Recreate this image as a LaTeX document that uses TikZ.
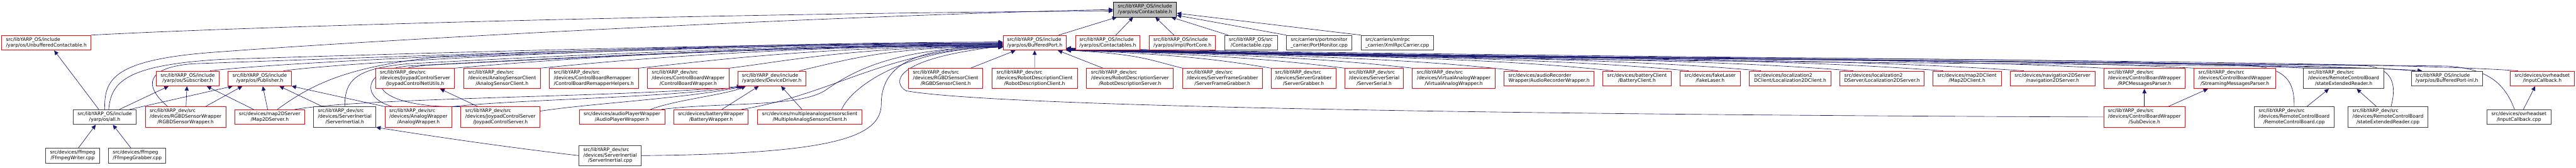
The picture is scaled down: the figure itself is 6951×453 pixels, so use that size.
\documentclass[tikz,border=0pt]{standalone}
\usepackage{fontspec}
\newfontfamily\nodefont{DejaVu Sans}
\usetikzlibrary{arrows.meta,calc}
\definecolor{edgeblue}{HTML}{191970}
\definecolor{greyA}{HTML}{404040}
\definecolor{greyB}{HTML}{BFBFBF}
\definecolor{redA}{HTML}{FF0000}
\newcommand{\twoL}[2]{\begin{tabular}{@{}l@{}}#1\\\multicolumn{1}{@{}c@{}}{#2}\end{tabular}}
\newcommand{\threeL}[3]{\begin{tabular}{@{}l@{}}#1\\#2\\\multicolumn{1}{@{}c@{}}{#3}\end{tabular}}
\pgfdeclarelayer{bg}
\pgfsetlayers{bg,main}
\tikzset{
 nbox/.style={draw=greyA, fill=white, line width=1.4pt, inner sep=0pt, font={\nodefont\fontsize{12.85}{15}\selectfont}},
 rbox/.style={nbox, draw=redA},
 rootbox/.style={nbox, draw=black, fill=greyB},
 htwo/.style={minimum height=40pt},
 hthree/.style={minimum height=54.5pt},
 edge/.style={draw=edgeblue, line width=1.1pt, -{Triangle[length=12pt,width=11pt]}},
}
\begin{document}
\begin{tikzpicture}[x=1pt,y=-1pt]
\useasboundingbox (0,0) rectangle (6951,453);
% row 0
\node[rootbox,htwo,minimum width=170.5pt] (root) at (3089.5,25.7) {\twoL{src/libYARP\_OS/include}{/yarp/os/Contactable.h}};
% row 1
\node[rbox,htwo,minimum width=240.4pt] (unbuf) at (125.1,115.35) {\twoL{src/libYARP\_OS/include}{/yarp/os/UnbufferedContactable.h}};
\node[rbox,htwo,minimum width=170.1pt] (bport) at (2791.9,115.35) {\twoL{src/libYARP\_OS/include}{/yarp/os/BufferedPort.h}};
\node[rbox,htwo,minimum width=174.2pt] (ctbls) at (2989.0,115.35) {\twoL{src/libYARP\_OS/include}{/yarp/os/Contactables.h}};
\node[rbox,htwo,minimum width=178.7pt] (pcore) at (3190.7,115.35) {\twoL{src/libYARP\_OS/include}{/yarp/os/impl/PortCore.h}};
\node[nbox,htwo,minimum width=142.2pt] (ccpp) at (3375.6,115.35) {\twoL{src/libYARP\_OS/src}{/Contactable.cpp}};
\node[nbox,htwo,minimum width=177pt] (pmon) at (3559.7,115.35) {\twoL{src/carriers/portmonitor}{\_carrier/PortMonitor.cpp}};
\node[nbox,htwo,minimum width=194.6pt] (xmlrpc) at (3770.3,115.35) {\twoL{src/carriers/xmlrpc}{\_carrier/XmlRpcCarrier.cpp}};
% row 2
\node[rbox,htwo,minimum width=171.3pt] (subs) at (506.4,211.7) {\twoL{src/libYARP\_OS/include}{/yarp/os/Subscriber.h}};
\node[rbox,htwo,minimum width=170.5pt] (pub) at (701.0,211.7) {\twoL{src/libYARP\_OS/include}{/yarp/os/Publisher.h}};
\node[rbox,hthree,minimum width=213.5pt] (joynet) at (1119.9,211.7) {\threeL{src/libYARP\_dev/src}{/devices/JoypadControlServer}{/JoypadControlNetUtils.h}};
\node[rbox,hthree,minimum width=206.9pt] (asclient) at (1354.6,211.7) {\threeL{src/libYARP\_dev/src}{/devices/AnalogSensorClient}{/AnalogSensorClient.h}};
\node[rbox,hthree,minimum width=240pt] (cbrh) at (1602.5,211.7) {\threeL{src/libYARP\_dev/src}{/devices/ControlBoardRemapper}{/ControlBoardRemapperHelpers.h}};
\node[rbox,hthree,minimum width=220.5pt] (cbw) at (1857.1,211.7) {\threeL{src/libYARP\_dev/src}{/devices/ControlBoardWrapper}{/ControlBoardWrapper.h}};
\node[rbox,htwo,minimum width=182.9pt] (ddrv) at (2082.5,211.7) {\twoL{src/libYARP\_dev/include}{/yarp/dev/DeviceDriver.h}};
\node[rbox,hthree,minimum width=200.2pt] (rgbdc) at (2551.8,211.7) {\threeL{src/libYARP\_dev/src}{/devices/RGBDSensorClient}{/RGBDSensorClient.h}};
\node[rbox,hthree,minimum width=230.7pt] (rdc) at (2791.7,211.7) {\threeL{src/libYARP\_dev/src}{/devices/RobotDescriptionClient}{/RobotDescriptionClient.h}};
\node[rbox,hthree,minimum width=234.4pt] (rds) at (3049.2,211.7) {\threeL{src/libYARP\_dev/src}{/devices/RobotDescriptionServer}{/RobotDescriptionServer.h}};
\node[rbox,hthree,minimum width=214.5pt] (sfg) at (3298.5,211.7) {\threeL{src/libYARP\_dev/src}{/devices/ServerFrameGrabber}{/ServerFrameGrabber.h}};
\node[rbox,hthree,minimum width=174.7pt] (sg) at (3517.2,211.7) {\threeL{src/libYARP\_dev/src}{/devices/ServerGrabber}{/ServerGrabber.h}};
\node[rbox,hthree,minimum width=158.8pt] (ss) at (3708.0,211.7) {\threeL{src/libYARP\_dev/src}{/devices/ServerSerial}{/ServerSerial.h}};
\node[rbox,hthree,minimum width=223.2pt] (vaw) at (3922.7,211.7) {\threeL{src/libYARP\_dev/src}{/devices/VirtualAnalogWrapper}{/VirtualAnalogWrapper.h}};
\node[rbox,htwo,minimum width=242.9pt] (arw) at (4179.8,211.7) {\twoL{src/devices/audioRecorder}{Wrapper/AudioRecorderWrapper.h}};
\node[rbox,htwo,minimum width=184pt] (bc) at (4417.3,211.7) {\twoL{src/devices/batteryClient}{/BatteryClient.h}};
\node[rbox,htwo,minimum width=163.1pt] (fl) at (4614.6,211.7) {\twoL{src/devices/fakeLaser}{/fakeLaser.h}};
\node[rbox,htwo,minimum width=220.1pt] (l2dc) at (4830.6,211.7) {\twoL{src/devices/localization2}{DClient/Localization2DClient.h}};
\node[rbox,htwo,minimum width=226.9pt] (l2ds) at (5078.6,211.7) {\twoL{src/devices/localization2}{DServer/Localization2DServer.h}};
\node[rbox,htwo,minimum width=184.2pt] (m2dc) at (5307.8,211.7) {\twoL{src/devices/map2DClient}{/Map2DClient.h}};
\node[rbox,htwo,minimum width=228.4pt] (n2ds) at (5538.5,211.7) {\twoL{src/devices/navigation2DServer}{/navigation2DServer.h}};
\node[rbox,hthree,minimum width=219.9pt] (rpcp) at (5786.4,211.7) {\threeL{src/libYARP\_dev/src}{/devices/ControlBoardWrapper}{/RPCMessagesParser.h}};
\node[rbox,hthree,minimum width=220.1pt] (smp) at (6030.5,211.7) {\threeL{src/libYARP\_dev/src}{/devices/ControlBoardWrapper}{/StreamingMessagesParser.h}};
\node[nbox,hthree,minimum width=216.3pt] (serh) at (6324.0,211.7) {\threeL{src/libYARP\_dev/src}{/devices/RemoteControlBoard}{/stateExtendedReader.h}};
\node[nbox,htwo,minimum width=192.2pt] (bpinl) at (6602.5,211.7) {\twoL{src/libYARP\_OS/include}{/yarp/os/BufferedPort-inl.h}};
\node[rbox,htwo,minimum width=172.6pt] (icbh) at (6860.0,211.7) {\twoL{src/devices/ovrheadset}{/InputCallback.h}};
% row 3
\node[nbox,htwo,minimum width=170.4pt] (allh) at (282.4,315.7) {\twoL{src/libYARP\_OS/include}{/yarp/os/all.h}};
\node[rbox,hthree,minimum width=216.8pt] (rgbdw) at (500.9,315.5) {\threeL{src/libYARP\_dev/src}{/devices/RGBDSensorWrapper}{/RGBDSensorWrapper.h}};
\node[rbox,htwo,minimum width=187.8pt] (m2ds) at (727.7,315.7) {\twoL{src/devices/map2DServer}{/Map2DServer.h}};
\node[nbox,hthree,minimum width=167.8pt] (sih) at (930.3,315.5) {\threeL{src/libYARP\_dev/src}{/devices/ServerInertial}{/ServerInertial.h}};
\node[rbox,hthree,minimum width=180pt] (aw) at (1129.1,315.5) {\threeL{src/libYARP\_dev/src}{/devices/AnalogWrapper}{/AnalogWrapper.h}};
\node[rbox,hthree,minimum width=213.8pt] (jcs) at (1350.4,315.5) {\threeL{src/libYARP\_dev/src}{/devices/JoypadControlServer}{/JoypadControlServer.h}};
\node[rbox,htwo,minimum width=230.8pt] (apw) at (1678.4,315.7) {\twoL{src/devices/audioPlayerWrapper}{/AudioPlayerWrapper.h}};
\node[rbox,htwo,minimum width=201.7pt] (bw) at (1918.4,315.7) {\twoL{src/devices/batteryWrapper}{/BatteryWrapper.h}};
\node[rbox,htwo,minimum width=282.5pt] (masc) at (2185.0,315.7) {\twoL{src/devices/multipleanalogsensorsclient}{/MultipleAnalogSensorsClient.h}};
\node[rbox,hthree,minimum width=219.9pt] (subdev) at (5786.4,315.5) {\threeL{src/libYARP\_dev/src}{/devices/ControlBoardWrapper}{/SubDevice.h}};
\node[nbox,hthree,minimum width=216.4pt] (rcbcpp) at (6190.4,315.5) {\threeL{src/libYARP\_dev/src}{/devices/RemoteControlBoard}{/RemoteControlBoard.cpp}};
\node[nbox,hthree,minimum width=216.5pt] (sercpp) at (6443.7,315.5) {\threeL{src/libYARP\_dev/src}{/devices/RemoteControlBoard}{/stateExtendedReader.cpp}};
\node[nbox,htwo,minimum width=172.6pt] (icbcpp) at (6797.0,315.7) {\twoL{src/devices/ovrheadset}{/InputCallback.cpp}};
% row 4
\node[nbox,htwo,minimum width=145.7pt] (fw) at (195.9,420) {\twoL{src/devices/ffmpeg}{/FfmpegWriter.cpp}};
\node[nbox,htwo,minimum width=154.7pt] (fg) at (370.5,420) {\twoL{src/devices/ffmpeg}{/FfmpegGrabber.cpp}};
\node[nbox,hthree,minimum width=167.8pt] (sicpp) at (1646.5,419.7) {\threeL{src/libYARP\_dev/src}{/devices/ServerInertial}{/ServerInertial.cpp}};

\begin{pgfonlayer}{bg}
\fill[white] (0,0) rectangle (6951,453);
% into Contactable.h
\draw[edge] (unbuf.north east) .. controls (700,70) and (2000,35) .. ($(root.west)+(0,4)$);
\draw[edge] (allh.north) .. controls (282,215) and (300,160) .. (590,140) .. controls (1200,95) and (2400,38) .. (root.west);
\draw[edge] ($(bport.north east)+(-21,0)$) -- ($(root.south west)+(10,0)$);
\draw[edge] ($(ctbls.north)+(22,0)$) -- ($(root.south west)+(54,0)$);
\draw[edge] ($(pcore.north)+(-23,0)$) -- ($(root.south west)+(114,0)$);
\draw[edge] ($(ccpp.north west)+(10,0)$) -- ($(root.south east)+(-15,0)$);
\draw[edge] (pmon.north west) -- ($(root.south east)+(0,-5)$);
\draw[edge] (xmlrpc.north west) -- ($(root.east)+(0,10)$);
% into BufferedPort.h from the left
\draw[edge] ($(subs.north east)+(-26,0)$) .. controls +(250,-30) and +(-700,0) .. ($(bport.west)+(0,-2)$);
\draw[edge] ($(pub.north east)+(-22,0)$) .. controls +(220,-30) and +(-700,0) .. (bport.west);
\draw[edge] ($(allh.north)+(11,0)$) .. controls (300,220) and (340,175) .. (600,160) .. controls (1400,135) and (2100,117) .. ($(bport.west)+(0,1)$);
\draw[edge] ($(rgbdw.north west)+(61,0)$) .. controls (385,230) and (395,182) .. (520,172) .. controls (1400,140) and (2100,118) .. ($(bport.west)+(0,2)$);
\draw[edge] ($(m2ds.north)+(21,0)$) .. controls (850,220) and (950,180) .. (1170,155) .. controls (1700,135) and (2200,120) .. ($(bport.west)+(0,3)$);
\draw[edge] (sih.north) .. controls (930,215) and (960,185) .. (1100,172) .. controls (1700,140) and (2200,122) .. ($(bport.west)+(0,4)$);
\draw[edge] ($(aw.north west)+(21,0)$) .. controls (975,265) and (975,190) .. (1100,178) .. controls (1700,146) and (2200,123) .. ($(bport.west)+(0,5)$);
\draw[edge] (jcs.north west) .. controls (1000,292) and (955,195) .. (1150,176) .. controls (1750,145) and (2250,124) .. ($(bport.west)+(0,6)$);
\draw[edge] (joynet.north east) .. controls +(250,-22) and +(-700,0) .. ($(bport.west)+(0,7)$);
\draw[edge] (asclient.north east) .. controls +(200,-20) and +(-600,0) .. ($(bport.west)+(0,8)$);
\draw[edge] (cbrh.north east) .. controls +(180,-18) and +(-500,0) .. ($(bport.west)+(0,9)$);
\draw[edge] (cbw.north east) .. controls +(150,-18) and +(-400,0) .. ($(bport.west)+(0,10)$);
\draw[edge] ($(apw.north east)+(-10,0)$) .. controls (1950,275) and (2150,290) .. (2225,245) .. controls (2290,200) and (2400,128) .. ($(bport.west)+(0,11)$);
\draw[edge] ($(ddrv.north east)+(-18,0)$) .. controls +(150,-35) and +(-300,0) .. ($(bport.west)+(0,11)$);
\draw[edge] ($(bw.north east)+(-19,0)$) .. controls (2250,255) and (2400,130) .. ($(bport.west)+(0,12)$);
\draw[edge] ($(masc.north east)+(-56,0)$) .. controls (2300,230) and (2450,130) .. ($(bport.west)+(0,12)$);
\draw[edge] (sicpp.east) .. controls (2250,415) and (2378,370) .. (2378,280) .. controls (2378,160) and (2500,128) .. ($(bport.west)+(0,10)$);
\draw[edge] (subdev.west) .. controls (4200,310) and (2700,290) .. (2445,245) .. controls (2410,225) and (2400,160) .. ($(bport.west)+(0,9)$);
\draw[edge] ($(rgbdc.north)+(67,0)$) -- ($(bport.south west)+(34,0)$);
\draw[edge] (rdc.north) -- (bport.south);
\draw[edge] ($(rds.north west)+(45,0)$) -- ($(bport.south east)+(-23,0)$);
% into BufferedPort.h from the right
\draw[edge] (sfg.north west) .. controls +(-100,-25) and +(200,12) .. ($(bport.south east)+(0,-1)$);
\draw[edge] (sg.north west) .. controls +(-150,-25) and +(300,14) .. ($(bport.south east)+(0,-2)$);
\draw[edge] (ss.north west) .. controls +(-200,-25) and +(400,16) .. ($(bport.south east)+(0,-3)$);
\draw[edge] (vaw.north west) .. controls +(-250,-28) and +(500,18) .. ($(bport.south east)+(0,-4)$);
\draw[edge] ($(arw.north west)+(38,0)$) .. controls +(-300,-35) and +(600,20) .. ($(bport.south east)+(0,-5)$);
\draw[edge] ($(bc.north west)+(28,0)$) .. controls +(-350,-38) and +(700,22) .. ($(bport.south east)+(0,-6)$);
\draw[edge] ($(fl.north west)+(24,0)$) .. controls +(-400,-38) and +(800,24) .. ($(bport.south east)+(0,-6)$);
\draw[edge] ($(l2dc.north west)+(32,0)$) .. controls +(-450,-40) and +(900,25) .. ($(bport.south east)+(0,-5)$);
\draw[edge] ($(l2ds.north west)+(36,0)$) .. controls +(-500,-40) and +(1000,26) .. ($(bport.south east)+(0,-4)$);
\draw[edge] ($(m2dc.north west)+(28,0)$) .. controls +(-550,-42) and +(1100,27) .. ($(bport.south east)+(0,-3)$);
\draw[edge] ($(n2ds.north west)+(37,0)$) .. controls +(-600,-42) and +(1200,28) .. ($(bport.south east)+(0,-2)$);
\draw[edge] (rpcp.north west) .. controls +(-650,-35) and +(1300,29) .. ($(bport.south east)+(0,-1)$);
\draw[edge] (smp.north west) .. controls +(-700,-35) and +(1400,30) .. (bport.south east);
\draw[edge] (serh.north west) .. controls +(-750,-38) and +(1500,30) .. ($(bport.south east)+(0,-1)$);
\draw[edge] (rcbcpp.north) .. controls (6192,210) and (6160,180) .. (6050,175) .. controls (5000,160) and (3600,150) .. ($(bport.south east)+(0,-2)$);
\draw[edge] ($(sercpp.north west)+(117,0)$) .. controls (6470,220) and (6450,182) .. (6380,177) .. controls (5200,162) and (3700,152) .. ($(bport.south east)+(0,-3)$);
\draw[edge] ($(bpinl.north west)+(11,0)$) .. controls +(-300,-25) and +(1700,30) .. ($(bport.south east)+(0,-4)$);
\draw[edge] (bport.south east) .. controls +(1700,40) and +(-300,-22) .. ($(bpinl.north west)+(30,0)$);
\draw[edge] ($(icbcpp.north west)+(75,0)$) .. controls (6760,230) and (6720,185) .. (6600,178) .. controls (5300,165) and (3800,152) .. ($(bport.south east)+(0,-5)$);
\draw[edge] ($(icbh.north west)+(21,0)$) .. controls +(-400,-30) and +(1800,32) .. ($(bport.south east)+(0,-6)$);
% into DeviceDriver.h
\draw[edge] ($(m2ds.north east)+(-27,0)$) .. controls (1000,262) and (1700,262) .. ($(ddrv.south west)+(10,0)$);
\draw[edge] (aw.north east) .. controls (1400,268) and (1800,264) .. ($(ddrv.south west)+(14,0)$);
\draw[edge] ($(jcs.north east)+(0,12)$) .. controls (1600,278) and (1850,266) .. ($(ddrv.south west)+(18,0)$);
\draw[edge] ($(apw.north east)+(-39,0)$) .. controls (1820,270) and (1960,255) .. ($(ddrv.south west)+(22,0)$);
\draw[edge] ($(bw.north west)+(131,0)$) -- ($(ddrv.south west)+(57,0)$);
\draw[edge] ($(masc.north west)+(121,0)$) -- ($(ddrv.south east)+(-67,0)$);
% other edges
\draw[edge] ($(allh.north west)+(70,0)$) -- ($(unbuf.south west)+(142,0)$);
\draw[edge] ($(allh.north west)+(126,0)$) -- ($(subs.south west)+(35,0)$);
\draw[edge] ($(allh.north east)+(-18,0)$) -- ($(pub.south west)+(13,0)$);
\draw[edge] ($(rgbdw.north)+(1,0)$) -- ($(subs.south)+(-2,0)$);
\draw[edge] ($(rgbdw.north east)+(-56,0)$) -- ($(pub.south west)+(39,0)$);
\draw[edge] ($(m2ds.north west)+(51,0)$) -- ($(subs.south east)+(-35,0)$);
\draw[edge] ($(m2ds.north west)+(89,0)$) -- ($(pub.south west)+(94,0)$);
\draw[edge] ($(sih.north west)+(25,0)$) -- ($(pub.south east)+(-33,0)$);
\draw[edge] (aw.north west) -- (pub.south east);
\draw[edge] ($(jcs.north west)+(47,0)$) -- ($(joynet.south west)+(175,0)$);
\draw[edge] (sicpp.west) .. controls (1350,395) and (1150,365) .. (sih.south east);
\draw[edge] (subdev.north) -- (rpcp.south);
\draw[edge] ($(subdev.north east)+(-47,0)$) -- ($(smp.south west)+(38,0)$);
\draw[edge] ($(rcbcpp.north west)+(143,0)$) -- ($(serh.south west)+(69,0)$);
\draw[edge] ($(sercpp.north west)+(78,0)$) -- ($(serh.south west)+(144,0)$);
\draw[edge] ($(icbcpp.north west)+(99,0)$) -- ($(icbh.south west)+(68,0)$);
\draw[edge] ($(fw.north west)+(89,0)$) -- ($(allh.south west)+(62,0)$);
\draw[edge] ($(fg.north west)+(61,0)$) -- ($(allh.south west)+(108,0)$);
\end{pgfonlayer}
\end{tikzpicture}
\end{document}
